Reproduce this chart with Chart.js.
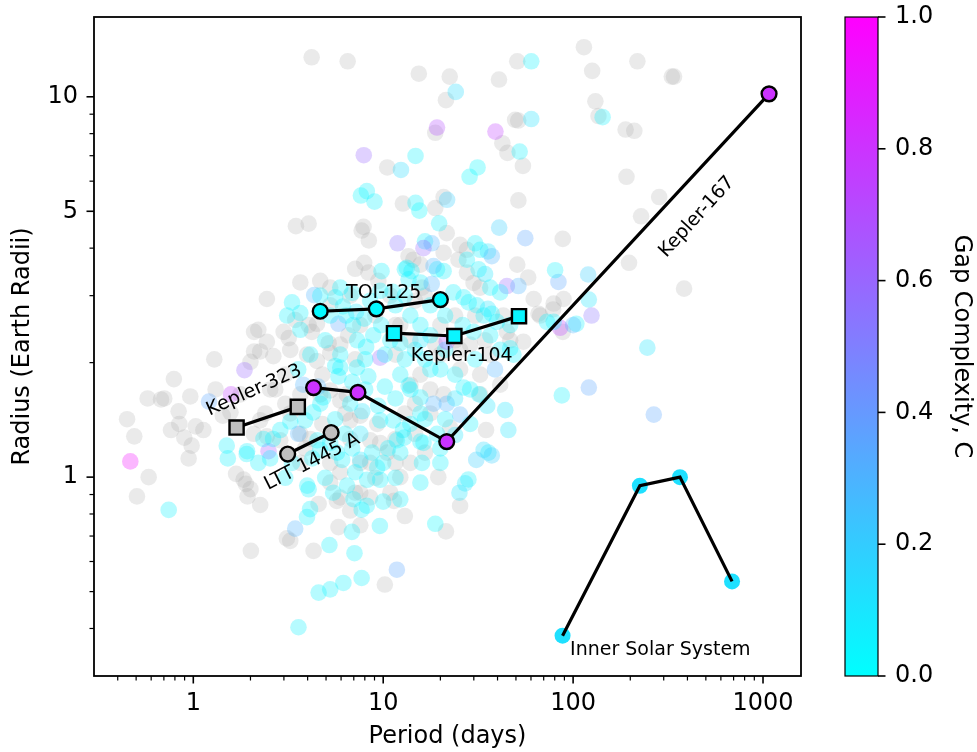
<!DOCTYPE html>
<html>
<head>
<meta charset="utf-8">
<script src="https://cdn.jsdelivr.net/npm/chart.js@4.4.0/dist/chart.umd.min.js"></script>
<style>
  body { margin: 0; background: #fff; }
  canvas { display: block; }
</style>
</head>
<body>
<canvas id="gap-chart" width="977" height="752"></canvas>
<script>
// Two-planet systems: gap complexity undefined, drawn in grey
const pairPeriod = [
  4.2, 6.5, 15.4, 22.4, 50.8, 40.7, 21.4, 49.5, 51.4, 18.8,
  42.4, 45.1, 54.4, 10.5, 12.7, 18.8, 20.8, 51.5, 3.47, 4.05,
  7.88, 114, 218, 126, 331, 340, 131, 136, 189, 210,
  191, 284, 228, 88.2, 197, 384, 88.2, 65.7, 67.0, 78.5,
  7.7, 8.4, 21.6, 20.8, 25.4, 27.6, 24.9, 15.7, 14.4, 13.6,
  50.8, 58.0, 27.6, 29.9, 32.4, 16.0, 16.6, 14.7, 62.0, 79.0,
  89.1, 42.9, 44.8, 54.7, 7.12, 7.94, 8.36, 9.43, 3.66, 4.66,
  5.26, 2.44, 2.2, 2.44, 2.99, 3.18, 3.44, 2.25, 2.64, 4.05,
  4.48, 4.21, 5.16, 1.29, 0.79, 0.575, 0.676, 0.703, 0.964, 0.837,
  0.448, 0.844, 0.763, 0.897, 0.98, 1.03, 1.13, 0.489, 1.43, 0.945,
  0.582, 0.505, 1.68, 1.89, 1.93, 2.09, 2.09, 2.25, 2.01, 3.11,
  3.24, 4.3, 10.2, 5.81, 7.57, 4.57, 13.0, 11.4, 5.7, 6.7,
  5.94, 25.4, 21.4, 19.5, 22.5, 20.8, 34.8, 12.3, 5.26, 5.94,
  6.43, 1.84, 2.0, 7.57, 6.7, 9.3, 8.54, 9.64, 10.5, 2.25,
  2.08, 2.44, 2.87, 2.0, 3.97, 4.48, 5.26, 12.3, 13.9, 11.6,
  15.7, 17.7, 13.0, 14.7, 11.6, 16.6, 7.57, 5.94, 9.08, 3.66,
  3.24, 2.70, 4.78, 6.54, 9.08, 10.9, 6.7, 20.0, 23.9, 28.7,
  36.6, 46.6, 30.5, 23.9, 20.0, 25.4, 32.4, 41.3, 17.7, 13.9,
  10.9, 8.54, 7.12, 1.57, 1.77, 1.31, 5.26, 4.13, 3.05, 3.66,
  3.24, 5.94, 7.12, 4.66, 6.31, 3.66, 4.78, 6.7, 8.54, 11.6,
  14.7, 18.8, 25.4, 34.4, 32.4, 13.9, 11.6, 7.57, 5.26, 2.54,
  3.05, 2.39, 3.88, 5.26, 7.57
];
const pairRadius = [
  12.7, 12.4, 11.5, 11.3, 12.4, 11.1, 9.8, 8.7, 8.66, 8.04,
  7.55, 7.12, 6.58, 6.52, 5.24, 5.1, 5.45, 5.34, 4.57, 4.64,
  4.55, 13.5, 12.4, 11.7, 11.3, 11.3, 9.73, 8.9, 8.2, 8.14,
  6.16, 5.45, 4.85, 4.23, 3.66, 3.13, 2.41, 2.69, 2.66, 2.76,
  4.45, 4.19, 4.38, 3.89, 4.08, 3.96, 3.73, 3.62, 3.73, 3.81,
  3.62, 3.35, 3.45, 3.24, 3.15, 3.15, 3.0, 2.91, 2.94, 2.86,
  2.94, 2.66, 2.41, 2.27, 3.53, 3.66, 3.45, 3.28, 3.25, 3.28,
  3.15, 2.94, 2.44, 2.27, 2.41, 2.32, 2.59, 2.14, 2.08, 2.51,
  2.53, 2.41, 2.25, 2.04, 1.81, 1.61, 1.6, 1.61, 1.63, 1.49,
  1.42, 1.38, 1.33, 1.27, 1.21, 1.36, 1.33, 1.28, 1.45, 1.12,
  1.0, 0.89, 1.02, 0.96, 0.89, 2.41, 2.14, 0.845, 0.64, 0.69,
  0.68, 0.64, 0.522, 0.739, 0.747, 0.85, 0.79, 0.866, 0.866, 0.817,
  0.884, 0.84, 0.72, 1.0, 1.35, 1.65, 1.33, 1.0, 1.69, 1.59,
  1.65, 0.985, 0.93, 1.45, 1.41, 1.38, 1.25, 1.23, 1.16, 1.41,
  1.30, 1.28, 1.25, 2.01, 2.1, 2.02, 2.12, 2.51, 2.29, 2.1,
  1.86, 1.70, 1.47, 1.30, 1.26, 1.16, 1.09, 1.03, 0.996, 1.09,
  1.47, 1.70, 1.86, 2.36, 2.66, 3.0, 3.0, 2.51, 2.29, 2.23,
  2.1, 2.29, 2.66, 2.66, 2.1, 1.92, 1.86, 1.75, 1.47, 1.09,
  0.91, 0.884, 0.91, 1.48, 1.65, 1.70, 1.09, 1.26, 1.86, 1.65,
  2.16, 2.23, 2.04, 1.65, 1.47, 1.30, 1.38, 1.26, 1.09, 1.09,
  1.56, 2.23, 2.16, 2.29, 1.65, 1.75, 2.51, 2.51, 2.83, 1.70,
  1.56, 1.47, 1.19, 0.967, 0.91
];

// Systems with three or more planets, coloured by gap complexity C
const multiPeriod = [
  60.2, 24.1, 60.2, 19.2, 39.0, 52.3, 7.9, 14.8, 12.4, 31.4,
  28.5, 7.63, 8.2, 9.0, 14.8, 15.5, 21.7, 19.7, 40.8, 143,
  56.0, 120, 121, 125, 85.4, 83.7, 80.4, 104, 100, 246,
  87.2, 121, 266, 45.6, 43.9, 35.3, 25.4, 32.0, 23.9, 33.8,
  35.8, 37.3, 30.9, 28.1, 27.0, 25.2, 18.8, 15.7, 21.6, 18.4,
  13.6, 13.9, 26.5, 15.7, 16.3, 16.0, 11.9, 16.6, 18.0, 16.3,
  30.5, 32.4, 35.6, 37.3, 27.6, 31.8, 34.4, 19.2, 20.8, 18.4,
  13.3, 14.1, 44.8, 51.5, 36.6, 41.3, 26.5, 28.2, 23.4, 13.6,
  15.7, 18.0, 31.1, 35.6, 37.3, 33.8, 79.0, 72.8, 39.7, 46.6,
  29.9, 36.6, 46.6, 48.5, 9.8, 13.0, 5.94, 4.33, 3.31, 5.59,
  5.81, 6.38, 6.94, 7.94, 7.29, 8.13, 8.86, 9.75, 5.94, 11.6,
  9.64, 5.94, 5.59, 7.27, 2.49, 4.66, 4.83, 4.28, 3.88, 3.24,
  2.87, 2.63, 2.34, 1.92, 4.5, 4.66, 5.72, 6.08, 7.57, 8.73,
  9.3, 10.0, 12.3, 11.8, 12.7, 9.64, 11.3, 12.9, 3.98, 5.45,
  6.45, 9.64, 12.3, 8.23, 1.58, 1.21, 1.86, 0.466, 0.742, 1.5,
  1.52, 1.91, 4.57, 5.26, 6.17, 7.7, 3.58, 5.21, 7.06, 6.84,
  9.6, 3.97, 4.12, 4.05, 11.8, 3.44, 10.0, 7.7, 6.97, 8.19,
  3.66, 6.14, 7.2, 8.54, 11.2, 13.9, 15.7, 17.7, 14.7, 16.6,
  21.2, 20.0, 12.3, 10.9, 8.04, 6.7, 7.57, 5.59, 3.57, 3.79,
  28.7, 20.0, 15.7, 19.2, 21.6,
  3.66, 4.95, 4.13, 3.57, 4.54, 5.81, 6.87, 8.35, 10.2, 11.6,
  9.41, 7.76, 6.31, 5.26, 4.23, 3.31, 6.87, 10.6, 13.9, 16.6,
  21.2, 23.9, 17.7, 13.0, 23.9, 30.5, 38.8, 28.7, 41.3, 17.7,
  21.2, 26.2, 15.7, 12.3, 10.2, 8.04, 5.26, 6.87, 9.64, 13.0,
  2.54, 2.2, 3.05, 4.95, 7.12, 11.6, 15.7, 20.0, 4.66, 3.12
];
const multiRadius = [
  12.4, 10.3, 8.74, 8.3, 8.1, 7.18, 7.02, 6.99, 6.42, 6.52,
  6.16, 5.5, 5.65, 5.3, 5.26, 5.02, 5.36, 4.65, 4.53, 8.84,
  4.25, 3.41, 2.93, 2.66, 2.47, 3.26, 3.5, 2.53, 2.51, 2.19,
  1.64, 1.72, 1.46, 1.33, 1.5, 1.54, 1.46, 1.65, 1.29, 1.18,
  1.16, 1.14, 1.11, 0.986, 0.963, 0.91, 0.754, 1.62, 1.56, 1.56,
  1.74, 1.70, 1.72, 1.24, 1.23, 1.09, 4.12, 4.17, 4.12, 4.0,
  4.12, 3.96, 3.92, 3.81, 3.73, 3.52, 3.42, 3.52, 3.48, 3.59,
  3.55, 3.48, 3.18, 3.18, 3.15, 3.06, 2.97, 2.88, 3.06, 3.31,
  3.25, 3.22, 2.83, 2.77, 2.69, 2.66, 2.56, 2.56, 2.56, 2.51,
  2.41, 2.36, 2.18, 2.1, 3.48, 3.52, 3.15, 3.01, 2.88, 2.97,
  2.53, 2.66, 2.51, 2.61, 2.29, 2.2, 2.36, 2.51, 2.1, 2.83,
  2.06, 1.94, 1.96, 1.94, 1.17, 1.56, 1.62, 1.48, 1.41, 1.40,
  1.33, 1.26, 1.26, 1.17, 1.25, 1.18, 1.16, 1.11, 1.11, 1.16,
  1.06, 1.09, 1.16, 1.25, 1.33, 1.41, 1.41, 1.27, 0.95, 0.91,
  0.95, 0.984, 0.874, 0.984, 1.65, 1.58, 1.91, 1.10, 0.82, 1.21,
  1.12, 1.15, 0.497, 0.507, 0.527, 0.543, 0.403, 0.663, 0.631, 0.718,
  0.744, 0.785, 0.824, 0.929, 0.571, 0.732, 0.862, 0.821, 0.875, 0.841,
  2.7, 2.81, 2.72, 2.91, 3.07, 2.66, 2.51, 2.36, 2.16, 2.04,
  2.16, 1.92, 1.86, 2.29, 1.70, 1.56, 1.30, 1.42, 1.30, 1.75,
  1.38, 1.19, 1.47, 1.30, 2.27,
  2.44, 2.29, 2.10, 1.92, 1.73, 1.84, 1.78, 1.84, 1.73, 1.61,
  1.54, 1.49, 1.30, 1.23, 1.12, 1.09, 1.19, 1.19, 1.38, 1.42,
  1.42, 1.61, 1.92, 2.04, 1.86, 2.04, 1.92, 1.70, 2.16, 2.83,
  2.66, 2.51, 2.29, 2.25, 2.10, 2.04, 2.66, 3.05, 3.09, 3.00,
  1.12, 1.09, 0.996, 0.996, 1.03, 0.996, 0.967, 1.09, 3.0, 2.66
];
const multiC = [
  0.05, 0.15, 0.12, 0.7, 0.75, 0.05, 0.6, 0.05, 0.15, 0.03,
  0.03, 0.03, 0.05, 0.05, 0.05, 0.03, 0.2, 0.05, 0.2, 0.05,
  0.35, 0.2, 0.1, 0.55, 0.75, 0.35, 0.05, 0.05, 0.3, 0.1,
  0.05, 0.35, 0.35, 0.1, 0.1, 0.1, 0.3, 0.05, 0.1, 0.15,
  0.1, 0.2, 0.2, 0.05, 0.1, 0.1, 0.03, 0.05, 0.3, 0.3,
  0.05, 0.05, 0.05, 0.05, 0.05, 0.05, 0.55, 0.05, 0.3, 0.6,
  0.05, 0.05, 0.1, 0.3, 0.05, 0.05, 0.1, 0.05, 0.05, 0.3,
  0.05, 0.05, 0.6, 0.3, 0.05, 0.05, 0.05, 0.05, 0.05, 0.05,
  0.05, 0.3, 0.05, 0.1, 0.05, 0.05, 0.05, 0.05, 0.05, 0.05,
  0.05, 0.05, 0.05, 0.05, 0.05, 0.05, 0.05, 0.3, 0.05, 0.05,
  0.35, 0.05, 0.05, 0.05, 0.05, 0.05, 0.05, 0.05, 0.05, 0.05,
  0.6, 0.05, 0.05, 0.05, 0.65, 0.05, 0.05, 0.05, 0.05, 0.05,
  0.05, 0.05, 0.05, 0.05, 0.05, 0.05, 0.05, 0.05, 0.1, 0.05,
  0.05, 0.05, 0.05, 0.05, 0.05, 0.05, 0.05, 0.05, 0.05, 0.05,
  0.05, 0.05, 0.05, 0.05, 0.75, 0.35, 0.6, 0.95, 0.05, 0.05,
  0.05, 0.05, 0.05, 0.05, 0.05, 0.05, 0.05, 0.05, 0.05, 0.05,
  0.05, 0.05, 0.05, 0.05, 0.35, 0.3, 0.05, 0.05, 0.05, 0.05,
  0.05, 0.05, 0.1, 0.05, 0.05, 0.05, 0.05, 0.05, 0.05, 0.05,
  0.05, 0.05, 0.05, 0.05, 0.05, 0.05, 0.1, 0.05, 0.3, 0.3,
  0.05, 0.05, 0.05, 0.05, 0.7,
  0.05, 0.05, 0.05, 0.05, 0.3, 0.05, 0.05, 0.05, 0.05, 0.05,
  0.05, 0.1, 0.05, 0.05, 0.05, 0.05, 0.05, 0.05, 0.05, 0.05,
  0.05, 0.1, 0.05, 0.05, 0.05, 0.05, 0.3, 0.05, 0.05, 0.05,
  0.05, 0.05, 0.1, 0.05, 0.05, 0.05, 0.05, 0.05, 0.05, 0.05,
  0.05, 0.05, 0.05, 0.05, 0.05, 0.05, 0.05, 0.05, 0.05, 0.05
];

// Highlighted systems
const toi125Period = [4.66, 9.2, 20.0];
const toi125Radius = [2.73, 2.77, 2.93];
const toi125C = 0.02;
const kepler104Period = [11.4, 23.7, 51.9];
const kepler104Radius = [2.39, 2.35, 2.65];
const kepler104C = 0.04;
const kepler167Period = [4.30, 7.36, 21.6, 1076];
const kepler167Radius = [1.72, 1.67, 1.24, 10.18];
const kepler167C = 0.8;
const kepler323Period = [1.69, 3.55];
const kepler323Radius = [1.35, 1.53];
const ltt1445Period = [3.14, 5.32];
const ltt1445Radius = [1.15, 1.31];
const solarPeriod = [88.0, 224.7, 365.25, 687.0];
const solarRadius = [0.383, 0.949, 1.0, 0.532];
const solarC = 0.12;

// Axis ticks
const xTickValues = [0.4, 0.5, 0.6, 0.7, 0.8, 0.9, 1, 2, 3, 4, 5, 6, 7, 8, 9,
  10, 20, 30, 40, 50, 60, 70, 80, 90, 100, 200, 300, 400, 500, 600, 700, 800, 900, 1000];
const xMajorTicks = [1, 10, 100, 1000];
const yTickValues = [0.4, 0.5, 0.6, 0.7, 0.8, 0.9, 1, 2, 3, 4, 5, 6, 7, 8, 9, 10];
const yMajorTicks = [1, 5, 10];
const cbarTicks = [0, 0.2, 0.4, 0.6, 0.8, 1.0];

// matplotlib "cool" colormap: cyan -> magenta
function cool(c, alpha) {
  return `rgba(${Math.round(255 * c)}, ${Math.round(255 * (1 - c))}, 255, ${alpha})`;
}

const toXY = (periods, radii) => periods.map((p, i) => ({ x: p, y: radii[i] }));

const systemLabels = [
  { text: 'TOI-125', period: 10.06, radius: 2.96, angle: 0, align: 'center', baseline: 'alphabetic' },
  { text: 'Kepler-104', period: 25.9, radius: 2.02, angle: 0, align: 'center', baseline: 'alphabetic' },
  { text: 'Kepler-167', period: 449, radius: 4.83, angle: -47.6, align: 'center', baseline: 'middle' },
  { text: 'Kepler-323', period: 2.09, radius: 1.69, angle: -24, align: 'center', baseline: 'middle' },
  { text: 'LTT 1445 A', period: 4.23, radius: 1.096, angle: -27, align: 'center', baseline: 'middle' },
  { text: 'Inner Solar System', period: 96.4, radius: 0.3405, angle: 0, align: 'left', baseline: 'alphabetic' }
];

function systemLine(periods, radii, fill, style, order) {
  return {
    data: toXY(periods, radii),
    showLine: true,
    borderColor: '#000',
    borderWidth: 3.2,
    pointStyle: style,
    pointRadius: style === 'rect' ? 10 : 7.4,
    pointBackgroundColor: fill,
    pointBorderColor: '#000',
    pointBorderWidth: 2.4,
    order: order
  };
}

// Frame, tick marks, colour bar and system names
const decorations = {
  id: 'decorations',
  afterDatasetsDraw(chart) {
    const { ctx, scales: { x, y } } = chart;
    ctx.save();
    ctx.fillStyle = '#000';
    ctx.font = '19px "DejaVu Sans"';
    systemLabels.forEach(l => {
      ctx.save();
      ctx.translate(x.getPixelForValue(l.period), y.getPixelForValue(l.radius));
      ctx.rotate(l.angle * Math.PI / 180);
      ctx.textAlign = l.align;
      ctx.textBaseline = l.baseline;
      ctx.fillText(l.text, 0, 0);
      ctx.restore();
    });
    ctx.restore();
  },
  afterDraw(chart) {
    const { ctx, chartArea: a, scales } = chart;
    ctx.save();
    ctx.strokeStyle = '#000';

    scales.x.ticks.forEach(t => {
      const px = scales.x.getPixelForValue(t.value);
      ctx.lineWidth = t.major ? 1.6 : 1.2;
      ctx.beginPath();
      ctx.moveTo(px, a.bottom);
      ctx.lineTo(px, a.bottom + (t.major ? 7.5 : 4.5));
      ctx.stroke();
    });
    scales.y.ticks.forEach(t => {
      const py = scales.y.getPixelForValue(t.value);
      ctx.lineWidth = t.major ? 1.6 : 1.2;
      ctx.beginPath();
      ctx.moveTo(a.left, py);
      ctx.lineTo(a.left - (t.major ? 7.5 : 4.5), py);
      ctx.stroke();
    });

    ctx.lineWidth = 1.8;
    ctx.strokeRect(a.left, a.top, a.right - a.left, a.bottom - a.top);

    // colour bar
    const cb = scales.cbar;
    const cbLeft = a.right + 44;
    const cbWidth = 33;
    const cbTop = cb.getPixelForValue(1);
    const cbBottom = cb.getPixelForValue(0);
    const grad = ctx.createLinearGradient(0, cbBottom, 0, cbTop);
    grad.addColorStop(0, cool(0, 1));
    grad.addColorStop(1, cool(1, 1));
    ctx.fillStyle = grad;
    ctx.fillRect(cbLeft, cbTop, cbWidth, cbBottom - cbTop);
    ctx.lineWidth = 1.2;
    ctx.strokeRect(cbLeft, cbTop, cbWidth, cbBottom - cbTop);

    ctx.fillStyle = '#000';
    ctx.font = '24px "DejaVu Sans"';
    ctx.textAlign = 'left';
    ctx.textBaseline = 'middle';
    ctx.lineWidth = 1.6;
    cbarTicks.forEach(v => {
      const py = cb.getPixelForValue(v);
      ctx.beginPath();
      ctx.moveTo(cbLeft + cbWidth, py);
      ctx.lineTo(cbLeft + cbWidth + 7.5, py);
      ctx.stroke();
      ctx.fillText(v.toFixed(1), cbLeft + cbWidth + 17, py);
    });

    ctx.save();
    ctx.translate(954.5, (cbTop + cbBottom) / 2);
    ctx.rotate(Math.PI / 2);
    ctx.textAlign = 'center';
    ctx.textBaseline = 'alphabetic';
    ctx.fillText('Gap Complexity, C', 0, 0);
    ctx.restore();

    ctx.restore();
  }
};

Chart.defaults.font.family = '"DejaVu Sans"';
Chart.defaults.font.size = 24;
Chart.defaults.color = '#000';

new Chart(document.getElementById('gap-chart'), {
  type: 'scatter',
  data: {
    datasets: [
      systemLine(toi125Period, toi125Radius, cool(toi125C, 1), 'circle', 0),
      systemLine(kepler104Period, kepler104Radius, cool(kepler104C, 1), 'rect', 1),
      systemLine(kepler167Period, kepler167Radius, cool(kepler167C, 1), 'circle', 2),
      systemLine(kepler323Period, kepler323Radius, '#bfbfbf', 'rect', 3),
      systemLine(ltt1445Period, ltt1445Radius, '#bfbfbf', 'circle', 4),
      {
        data: toXY(solarPeriod, solarRadius),
        showLine: true,
        borderColor: '#000',
        borderWidth: 3.2,
        pointRadius: 0,
        order: 5
      },
      {
        data: toXY(solarPeriod, solarRadius),
        backgroundColor: cool(solarC, 1),
        borderWidth: 0,
        pointRadius: 8,
        order: 6
      },
      {
        data: toXY(multiPeriod, multiRadius),
        backgroundColor: multiC.map(c => cool(c, 0.3)),
        borderWidth: 0,
        pointRadius: 8.3,
        order: 10
      },
      {
        data: toXY(pairPeriod, pairRadius),
        backgroundColor: 'rgba(160, 160, 160, 0.22)',
        borderWidth: 0,
        pointRadius: 8.3,
        order: 11
      }
    ]
  },
  options: {
    responsive: false,
    devicePixelRatio: 1,
    animation: false,
    events: [],
    layout: { padding: { left: 0, top: 17, right: 176, bottom: 0 } },
    plugins: { legend: { display: false }, tooltip: { enabled: false } },
    scales: {
      x: {
        type: 'logarithmic',
        min: 0.302,
        max: 1585,
        afterBuildTicks: s => {
          s.ticks = xTickValues.map(v => ({ value: v, major: xMajorTicks.includes(v) }));
        },
        afterFit: s => {
          s.height = 76;
          s.paddingLeft = 0;
          s.paddingRight = 0;
        },
        grid: { display: false, drawTicks: false },
        border: { display: false },
        ticks: {
          autoSkip: false,
          maxRotation: 0,
          padding: 13,
          callback: (v, i, ticks) => (ticks[i].major ? String(v) : '')
        },
        title: { display: true, text: 'Period (days)', padding: { top: 0, bottom: 1 } }
      },
      y: {
        type: 'logarithmic',
        min: 0.319,
        max: 16.21,
        afterBuildTicks: s => {
          s.ticks = yTickValues.map(v => ({ value: v, major: yMajorTicks.includes(v) }));
        },
        afterFit: s => {
          s.width = 94;
          s.paddingTop = 0;
          s.paddingBottom = 0;
        },
        grid: { display: false, drawTicks: false },
        border: { display: false },
        ticks: {
          autoSkip: false,
          padding: 16,
          callback: (v, i, ticks) => (ticks[i].major ? String(v) : '')
        },
        title: { display: true, text: 'Radius (Earth Radii)', padding: { top: 8.5, bottom: 0 } }
      },
      cbar: {
        type: 'linear',
        position: 'right',
        display: false,
        min: 0,
        max: 1
      }
    }
  },
  plugins: [decorations]
});
</script>
</body>
</html>
